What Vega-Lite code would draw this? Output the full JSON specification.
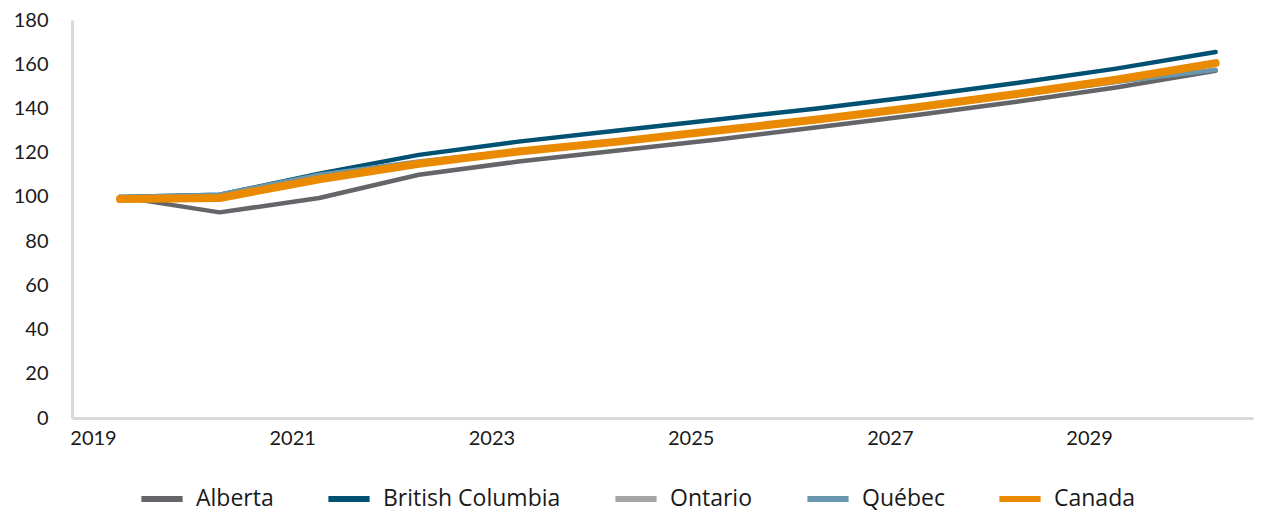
{
  "$schema": "https://vega.github.io/schema/vega-lite/v6.json",
  "width": 1181,
  "height": 398,
  "autosize": {"type": "none"},
  "padding": {"left": 72, "top": 20, "right": 12, "bottom": 92},
  "background": "white",
  "config": {
    "view": {"stroke": null},
    "font": "Lato",
    "axis": {"labelFont": "Lato", "labelFontSize": 20, "labelColor": "#1a1a1a", "grid": false, "ticks": false, "domainColor": "#d9d9d9", "domainWidth": 3, "title": null},
    "legend": {"labelFont": "Open Sans", "labelFontSize": 23, "labelColor": "#1a1a1a", "labelLimit": 400}
  },
  "data": {
    "values": [
      {"year": 2019, "region": "Alberta", "value": 100},
      {"year": 2020, "region": "Alberta", "value": 93},
      {"year": 2021, "region": "Alberta", "value": 99.5},
      {"year": 2022, "region": "Alberta", "value": 110},
      {"year": 2023, "region": "Alberta", "value": 116},
      {"year": 2024, "region": "Alberta", "value": 121},
      {"year": 2025, "region": "Alberta", "value": 126},
      {"year": 2026, "region": "Alberta", "value": 131.5},
      {"year": 2027, "region": "Alberta", "value": 137},
      {"year": 2028, "region": "Alberta", "value": 143},
      {"year": 2029, "region": "Alberta", "value": 149.5},
      {"year": 2030, "region": "Alberta", "value": 157},
      {"year": 2019, "region": "British Columbia", "value": 100},
      {"year": 2020, "region": "British Columbia", "value": 101},
      {"year": 2021, "region": "British Columbia", "value": 110.5},
      {"year": 2022, "region": "British Columbia", "value": 119},
      {"year": 2023, "region": "British Columbia", "value": 125},
      {"year": 2024, "region": "British Columbia", "value": 130},
      {"year": 2025, "region": "British Columbia", "value": 135},
      {"year": 2026, "region": "British Columbia", "value": 140},
      {"year": 2027, "region": "British Columbia", "value": 145.5},
      {"year": 2028, "region": "British Columbia", "value": 151.5},
      {"year": 2029, "region": "British Columbia", "value": 158},
      {"year": 2030, "region": "British Columbia", "value": 165.5},
      {"year": 2019, "region": "Ontario", "value": 99},
      {"year": 2020, "region": "Ontario", "value": 99.5},
      {"year": 2021, "region": "Ontario", "value": 108},
      {"year": 2022, "region": "Ontario", "value": 115.5},
      {"year": 2023, "region": "Ontario", "value": 121},
      {"year": 2024, "region": "Ontario", "value": 125.5},
      {"year": 2025, "region": "Ontario", "value": 130.5},
      {"year": 2026, "region": "Ontario", "value": 135.5},
      {"year": 2027, "region": "Ontario", "value": 141},
      {"year": 2028, "region": "Ontario", "value": 147},
      {"year": 2029, "region": "Ontario", "value": 153.5},
      {"year": 2030, "region": "Ontario", "value": 160.5},
      {"year": 2019, "region": "Québec", "value": 100},
      {"year": 2020, "region": "Québec", "value": 101},
      {"year": 2021, "region": "Québec", "value": 110},
      {"year": 2022, "region": "Québec", "value": 116},
      {"year": 2023, "region": "Québec", "value": 121},
      {"year": 2024, "region": "Québec", "value": 125.5},
      {"year": 2025, "region": "Québec", "value": 130},
      {"year": 2026, "region": "Québec", "value": 135},
      {"year": 2027, "region": "Québec", "value": 140},
      {"year": 2028, "region": "Québec", "value": 146},
      {"year": 2029, "region": "Québec", "value": 152},
      {"year": 2030, "region": "Québec", "value": 157.5},
      {"year": 2019, "region": "Canada", "value": 99},
      {"year": 2020, "region": "Canada", "value": 99.5},
      {"year": 2021, "region": "Canada", "value": 108},
      {"year": 2022, "region": "Canada", "value": 115},
      {"year": 2023, "region": "Canada", "value": 120.5},
      {"year": 2024, "region": "Canada", "value": 125},
      {"year": 2025, "region": "Canada", "value": 130},
      {"year": 2026, "region": "Canada", "value": 135},
      {"year": 2027, "region": "Canada", "value": 140.5},
      {"year": 2028, "region": "Canada", "value": 146.5},
      {"year": 2029, "region": "Canada", "value": 153},
      {"year": 2030, "region": "Canada", "value": 160.5}
    ]
  },
  "mark": {"type": "line", "strokeCap": "round", "strokeJoin": "round"},
  "encoding": {
    "x": {
      "field": "year", "type": "quantitative",
      "scale": {"domain": [2018.518, 2030.375], "nice": false, "zero": false},
      "axis": {"values": [2019, 2021, 2023, 2025, 2027, 2029], "format": "d", "labelOffset": -27, "labelPadding": 10}
    },
    "y": {
      "field": "value", "type": "quantitative",
      "scale": {"domain": [0, 180], "nice": false},
      "axis": {"values": [0, 20, 40, 60, 80, 100, 120, 140, 160, 180], "labelPadding": 24}
    },
    "color": {
      "field": "region", "type": "nominal",
      "scale": {"domain": ["Alberta", "British Columbia", "Ontario", "Québec", "Canada"], "range": ["#636569", "#005172", "#a6a6a6", "#6a97ad", "#ea8a00"]},
      "legend": {
        "orient": "none", "legendX": 66, "legendY": 455, "direction": "horizontal", "title": null,
        "symbolType": "stroke", "symbolSize": 1700, "symbolStrokeWidth": 6, "labelOffset": 10, "columnPadding": 42
      }
    },
    "strokeWidth": {
      "condition": {"test": "datum.region === 'Canada'", "value": 8},
      "value": 4.5
    }
  }
}
